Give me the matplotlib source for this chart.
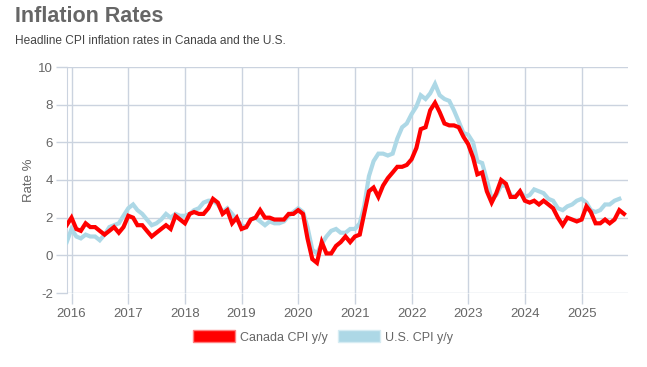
import matplotlib
matplotlib.use("Agg")
import matplotlib.pyplot as plt
import matplotlib.dates as mdates
import pandas as pd
from matplotlib.patches import Patch

plt.rcParams['font.family'] = ['Liberation Sans', 'DejaVu Sans']
plt.rcParams['axes.unicode_minus'] = False

# Monthly values, Dec 2015 onwards
canada_start = "2015-12-01"
canada_cpi = [
    1.6,
    2.0, 1.4, 1.3, 1.7, 1.5, 1.5, 1.3, 1.1, 1.3, 1.5, 1.2, 1.5,
    2.1, 2.0, 1.6, 1.6, 1.3, 1.0, 1.2, 1.4, 1.6, 1.4, 2.1, 1.9,
    1.7, 2.2, 2.3, 2.2, 2.2, 2.5, 3.0, 2.8, 2.2, 2.4, 1.7, 2.0,
    1.4, 1.5, 1.9, 2.0, 2.4, 2.0, 2.0, 1.9, 1.9, 1.9, 2.2, 2.2,
    2.4, 2.2, 0.9, -0.2, -0.4, 0.7, 0.1, 0.1, 0.5, 0.7, 1.0, 0.7,
    1.0, 1.1, 2.2, 3.4, 3.6, 3.1, 3.7, 4.1, 4.4, 4.7, 4.7, 4.8,
    5.1, 5.7, 6.7, 6.8, 7.7, 8.1, 7.6, 7.0, 6.9, 6.9, 6.8, 6.3,
    5.9, 5.2, 4.3, 4.4, 3.4, 2.8, 3.3, 4.0, 3.8, 3.1, 3.1, 3.4,
    2.9, 2.8, 2.9, 2.7, 2.9, 2.7, 2.5, 2.0, 1.6, 2.0, 1.9, 1.8,
    1.9, 2.6, 2.3, 1.7, 1.7, 1.9, 1.7, 1.9, 2.4, 2.2,
]
us_start = "2015-12-01"
us_cpi = [
    0.7,
    1.4, 1.0, 0.9, 1.1, 1.0, 1.0, 0.8, 1.1, 1.5, 1.6, 1.7, 2.1,
    2.5, 2.7, 2.4, 2.2, 1.9, 1.6, 1.7, 1.9, 2.2, 2.0, 2.2, 2.1,
    2.1, 2.2, 2.4, 2.5, 2.8, 2.9, 2.9, 2.7, 2.3, 2.5, 2.2, 1.9,
    1.6, 1.5, 1.9, 2.0, 1.8, 1.6, 1.8, 1.7, 1.7, 1.8, 2.1, 2.3,
    2.5, 2.3, 1.5, 0.3, 0.1, 0.6, 1.0, 1.3, 1.4, 1.2, 1.2, 1.4,
    1.4, 1.7, 2.6, 4.2, 5.0, 5.4, 5.4, 5.3, 5.4, 6.2, 6.8, 7.0,
    7.5, 7.9, 8.5, 8.3, 8.6, 9.1, 8.5, 8.3, 8.2, 7.7, 7.1, 6.5,
    6.4, 6.0, 5.0, 4.9, 4.0, 3.0, 3.2, 3.7, 3.7, 3.2, 3.1, 3.4,
    3.1, 3.2, 3.5, 3.4, 3.3, 3.0, 2.9, 2.5, 2.4, 2.6, 2.7, 2.9,
    3.0, 2.8, 2.4, 2.3, 2.4, 2.7, 2.7, 2.9, 3.0,
]
series_labels = ["Canada CPI y/y", "U.S. CPI y/y"]
year_ticks = list(range(2016, 2026))
y_ticks = [-2, 0, 2, 4, 6, 8, 10]

canada_dates = pd.date_range(canada_start, periods=len(canada_cpi), freq="MS")
us_dates = pd.date_range(us_start, periods=len(us_cpi), freq="MS")

GRID = "#cbd3df"
RED = "#ff0000"
BLUE = "#add8e6"
TXT = "#666666"

fig = plt.figure(figsize=(6.47, 3.67), dpi=100)
ax = fig.add_axes([66.7 / 647, 1 - 293 / 367, (627.7 - 66.7) / 647, (293 - 67) / 367])

ax.plot(us_dates, us_cpi, color=BLUE, lw=3.0, solid_joinstyle="miter", zorder=3)
ax.plot(canada_dates, canada_cpi, color=RED, lw=3.0, solid_joinstyle="miter", zorder=4)

ax.set_ylim(-2, 10)
ax.set_yticks(y_ticks)
ax.set_xlim(canada_dates[0], pd.Timestamp("2025-10-25"))
ax.set_xticks([pd.Timestamp(f"{y}-01-01") for y in year_ticks])
ax.set_xticklabels([str(y) for y in year_ticks])

ax.grid(True, color=GRID, lw=1.0)
ax.set_axisbelow(True)
for s in ["top", "right", "bottom"]:
    ax.spines[s].set_visible(False)
ax.spines["left"].set_color(GRID)
ax.tick_params(axis="both", colors=GRID, length=8, width=1.0, labelcolor=TXT, labelsize=9.5)
ax.tick_params(axis="x", pad=3)
ax.tick_params(axis="y", pad=2)

ax.set_ylabel("Rate %", color=TXT, fontsize=9.5, labelpad=2)

fig.text(15 / 647, 1 - 17 / 367, "Inflation Rates", fontsize=15.5, fontweight="bold",
         color="#666666", va="center", ha="left")
fig.text(15 / 647, 1 - 41 / 367, "Headline CPI inflation rates in Canada and the U.S.",
         fontsize=8.6, color="#444444", va="center", ha="left")

handles = [Patch(facecolor=RED, edgecolor="#ff8080", lw=1),
           Patch(facecolor=BLUE, edgecolor="#d6ecf3", lw=1)]
fig.legend(handles, series_labels, loc="center", bbox_to_anchor=(323 / 647, 1 - 337 / 367),
           ncol=2, frameon=False, fontsize=9, handlelength=3.4, handleheight=1.1,
           handletextpad=0.4, columnspacing=0.8, labelcolor=TXT)

fig.savefig("out.png", dpi=100)
